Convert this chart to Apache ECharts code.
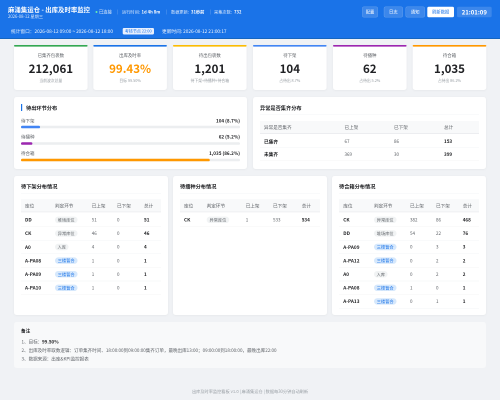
<!DOCTYPE html>
<html>
<head>
<meta charset="utf-8">
<style>html,body{margin:0;padding:0;background:#f0f2f5}#main{width:500px;height:400px}</style>
<script src="https://cdn.jsdelivr.net/npm/echarts@6/dist/echarts.min.js"></script>
</head>
<body>
<div id="main"></div>
<script>
var FONT = '"Noto Sans CJK SC","Noto Sans",sans-serif';

// kpi cards
var kpiTitles = ['已集齐包裹数', '出库及时率', '待出包裹数', '待下架', '待播种', '待合箱'];
var kpiValues = ['212,061', '99.43%', '1,201', '104', '62', '1,035'];
var kpiNotes = ['当前波次总量', '目标 99.50%', '待下架+待播种+待合箱', '占待出 8.7%', '占待出 5.2%', '占待出 86.2%'];
var kpiColors = ['#34a853', '#1a73e8', '#fbbc04', '#4285f4', '#9c27b0', '#ff9800'];

// stage progress
var stageNames = ['待下架', '待播种', '待合箱'];
var stageCounts = ['104', '62', '1,035'];
var stagePercents = [8.7, 5.2, 86.2];
var stageColors = ['#4285f4', '#9c27b0', '#ff9800'];

// tables
var collectHeader = ['异常是否集齐', '已上架', '已下架', '总计'];
var collectRows = [
    ['已集齐', '67', '86', '153'],
    ['未集齐', '369', '30', '399']
];
var detailHeader = ['库位', '判定环节', '已上架', '已下架', '总计'];
var downRows = [
    ['DD', '堆场库位', '51', '0', '51'],
    ['CK', '异常库位', '46', '0', '46'],
    ['A0', '入库', '4', '0', '4'],
    ['A-PA08', '三楼暂合', '1', '0', '1'],
    ['A-PA09', '三楼暂合', '1', '0', '1'],
    ['A-PA10', '三楼暂合', '1', '0', '1']
];
var sowRows = [
    ['CK', '异常库位', '1', '533', '534']
];
var mergeRows = [
    ['CK', '异常库位', '382', '86', '468'],
    ['DD', '堆场库位', '54', '22', '76'],
    ['A-PA09', '三楼暂合', '0', '3', '3'],
    ['A-PA12', '三楼暂合', '0', '2', '2'],
    ['A0', '入库', '0', '2', '2'],
    ['A-PA08', '三楼暂合', '1', '0', '1'],
    ['A-PA13', '三楼暂合', '0', '1', '1']
];

var noteLines = [
    '1、目标：',
    '2、出库及时率取数逻辑：订单集齐时间、18:00:00到09:00:00集齐订单，最晚出库13:00；09:00:00到18:00:00，最晚出库22:00',
    '3、数据来源：出库&KPI监控报表'
];

var g = [];

// text is laid out at 4x and scaled back so small glyph advances do not get rounded
function text(x, y, s, size, color, opt) {
    opt = opt || {};
    g.push({
        type: 'text', x: x, y: y, scaleX: 0.25, scaleY: 0.25, silent: true, z: opt.z || 5,
        style: {
            text: s, fontSize: size * 4, fill: color, fontFamily: FONT,
            fontWeight: opt.bold ? 700 : 400,
            align: opt.align || 'left', verticalAlign: 'middle'
        }
    });
}

function rect(x, y, w, h, fill, r, z, stroke) {
    g.push({
        type: 'rect', silent: true, z: z || 1,
        shape: { x: x, y: y, width: w, height: h, r: r || 0 },
        style: { fill: fill, stroke: stroke || null, lineWidth: stroke ? 0.4 : 0 }
    });
}

function card(x, y, w, h) {
    g.push({
        type: 'rect', silent: true, z: 1,
        shape: { x: x, y: y, width: w, height: h, r: 2.5 },
        style: { fill: '#fff', shadowBlur: 2, shadowColor: 'rgba(0,0,0,0.05)', shadowOffsetY: 0.5 }
    });
}

// header
rect(0, 0, 500, 38, '#1a73e8', 0, 1);
rect(0, 38, 500, 1, '#1565c0', 0, 1);
text(8, 9.5, '麻涌集运仓 - 出库及时率监控', 6.4, '#fff', { bold: true });
text(8, 16.2, '2026-08-12 星期三', 4.2, 'rgba(255,255,255,0.85)');
g.push({ type: 'circle', silent: true, z: 5, shape: { cx: 96.5, cy: 12, r: 1 }, style: { fill: '#69f0ae' } });
text(99, 12, '已连接', 4.3, 'rgba(255,255,255,0.9)');
var statusBars = [117, 166, 210];
statusBars.forEach(function (x) { rect(x, 9.5, 0.4, 5, 'rgba(255,255,255,0.35)', 0, 3); });
text(122, 12, '运行时间: ', 4.2, 'rgba(255,255,255,0.85)');
text(141.5, 12, '1d 4h 8m', 4.2, '#fff', { bold: true });
text(171, 12, '数据更新: ', 4.2, 'rgba(255,255,255,0.85)');
text(191, 12, '31秒前', 4.2, '#fff', { bold: true });
text(214, 12, '采集次数: ', 4.2, 'rgba(255,255,255,0.85)');
text(234, 12, '732', 4.2, '#fff', { bold: true });

text(11, 31, '统计窗口：2026-08-12 09:00 ~ 2026-08-12 18:00', 4.7, 'rgba(255,255,255,0.95)');
rect(122.7, 28, 31.3, 6.5, '#e8f0fe', 1.2, 3);
text(138.3, 31.2, '考核节点 22:00', 4, '#1a73e8', { align: 'center' });
text(162, 31, '更新时间: 2026-08-12 21:00:17', 4.7, 'rgba(255,255,255,0.95)');

// header buttons
var btnLabels = ['配置', '日志', '通知'];
var btnLefts = [362.3, 384, 405.7];
var btnWidths = [15.4, 18.7, 19];
btnLabels.forEach(function (s, i) {
    rect(btnLefts[i], 6.8, btnWidths[i], 10.4, 'rgba(255,255,255,0.15)', 1.5, 3, 'rgba(255,255,255,0.3)');
    text(btnLefts[i] + btnWidths[i] / 2, 12, s, 4.3, '#fff', { align: 'center' });
});
rect(427.3, 6.8, 26.7, 10.4, '#fff', 1.5, 3);
text(440.7, 12, '刷新数据', 4.3, '#1a73e8', { align: 'center' });
rect(457, 6.8, 34.7, 10.4, 'rgba(255,255,255,0.15)', 1.5, 3);
text(474.3, 12.1, '21:01:09', 6, '#fff', { align: 'center', bold: true });

// kpi cards
var kpiLefts = [14, 93.3, 173, 253, 333, 412.7];
kpiTitles.forEach(function (s, i) {
    var x = kpiLefts[i], w = 73.6, cx = x + w / 2;
    card(x, 45, w, 45);
    rect(x, 45, w, 1.6, kpiColors[i], 1, 2);
    text(cx, 55.5, s, 4.4, '#5f6368', { align: 'center' });
    text(cx, 68.8, kpiValues[i], 11.5, i === 1 ? '#ff9800' : '#202124', { align: 'center', bold: true });
    text(cx, 80.8, kpiNotes[i], 3.8, '#9aa0a6', { align: 'center' });
});

// panels
card(14, 97, 233, 72);
card(253, 97, 233, 72);
card(14, 176, 154, 139);
card(173, 176, 154, 139);
card(332, 176, 154, 139);
rect(14, 322, 472, 46, '#f8f9fa', 2.5, 1);

// stage panel
rect(21, 104, 1.2, 7, '#1a73e8', 0, 3);
text(26, 108, '待出环节分布', 5.2, '#202124', { bold: true });
var stageLabelY = [120.8, 137, 153.5];
stageNames.forEach(function (s, i) {
    text(21, stageLabelY[i], s, 4.5, '#5f6368');
    text(240, stageLabelY[i], stageCounts[i] + ' (' + stagePercents[i].toFixed(1) + '%)', 4.6, '#202124', { align: 'right', bold: true });
});

// tables
function table(x0, tw, top, cols, header, rows, rowH, tagCol) {
    rect(x0, top, tw, 12.5, '#f8f9fa', 0, 2);
    rect(x0, top + 12.3, tw, 0.7, '#e8eaed', 0, 3);
    header.forEach(function (s, c) {
        text(cols[c], top + 6.3, s, 4.6, '#5f6368');
    });
    rows.forEach(function (row, r) {
        var y = top + 20.5 + r * rowH;
        rect(x0, y + rowH / 2 - 0.2, tw, 0.4, '#f1f3f4', 0, 2);
        row.forEach(function (s, c) {
            if (c === tagCol) {
                var blue = s.indexOf('三楼') === 0;
                rect(cols[c], y - 3.2, s.length > 2 ? 22.5 : 13.5, 6.4, blue ? '#d6e8fc' : '#f1f3f4', 3.2, 3);
                text(cols[c] + (s.length > 2 ? 11.2 : 6.7), y, s, 4.2, blue ? '#1a73e8' : '#5f6368', { align: 'center' });
            } else if (c === 0) {
                text(cols[c], y, s, 4.7, '#202124', { bold: true });
            } else if (c === row.length - 1) {
                text(cols[c], y, s, 4.6, '#202124', { bold: true });
            } else {
                text(cols[c], y, s, 4.5, '#5f6368');
            }
        });
    });
}

text(260, 108, '异常是否集齐分布', 5.2, '#202124', { bold: true });
rect(260, 114.5, 219, 0.4, '#f1f3f4', 0, 2);
table(260, 219, 121, [264, 344.5, 394, 444], collectHeader, collectRows, 12.7, -1);

var panelTitles = ['待下架分布情况', '待播种分布情况', '待合箱分布情况'];
var panelLefts = [21, 180, 339];
var panelCols = [
    [25, 55, 91.7, 117, 144],
    [184, 206.7, 245.7, 273, 301.7],
    [343.3, 374, 410, 436, 462.7]
];
var panelRows = [downRows, sowRows, mergeRows];
panelTitles.forEach(function (s, i) {
    text(panelLefts[i], 186.7, s, 5.2, '#202124', { bold: true });
    rect(panelLefts[i], 193, 140, 0.4, '#f1f3f4', 0, 2);
    table(panelLefts[i], 140, 199.3, panelCols[i], detailHeader, panelRows[i], 13.6, 1);
});

// notes
text(21, 331, '备注', 4.6, '#202124', { bold: true });
text(21.5, 341.7, noteLines[0], 4.55, '#5f6368');
text(42, 341.7, '99.50%', 4.55, '#202124', { bold: true });
text(21.5, 350.3, noteLines[1], 4.55, '#5f6368');
text(21.5, 358.7, noteLines[2], 4.55, '#5f6368');

// footer
text(250, 391.5, '出库及时率监控看板 v1.0 | 麻涌集运仓 | 数据每30分钟自动刷新', 4.2, '#9aa0a6', { align: 'center' });

var myChart = echarts.init(document.getElementById('main'), null, { renderer: 'canvas', devicePixelRatio: 2 });

var option = {
    backgroundColor: '#f0f2f5',
    animation: false,
    tooltip: { show: false },
    grid: { left: 21, top: 118.75, width: 219, height: 49.5 },
    xAxis: { type: 'value', min: 0, max: 100, show: false },
    yAxis: { type: 'category', inverse: true, data: stageNames, show: false },
    series: [{
        type: 'bar',
        z: 4,
        barWidth: 2.6,
        showBackground: true,
        backgroundStyle: { color: '#eceef0', borderRadius: 1.3 },
        itemStyle: {
            borderRadius: 1.3,
            color: function (p) { return stageColors[p.dataIndex]; }
        },
        data: stagePercents
    }],
    graphic: { elements: g }
};
myChart.setOption(option);
</script>
</body>
</html>
